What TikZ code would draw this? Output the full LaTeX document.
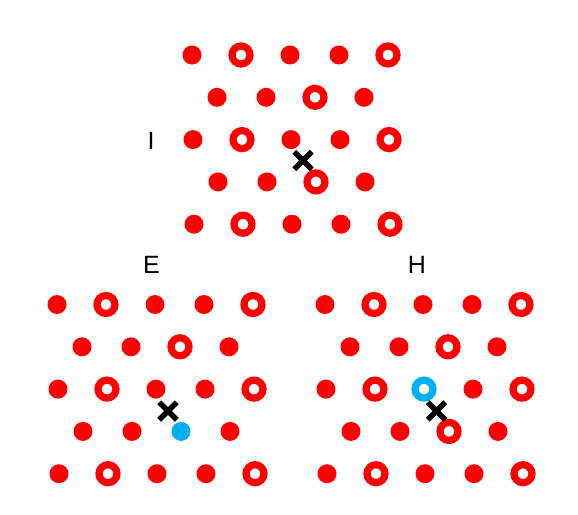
\documentclass[tikz,border=0pt]{standalone}
\usepackage{fontspec}
\setmainfont{Liberation Sans}
\usetikzlibrary{shapes.misc}
\definecolor{sitered}{RGB}{255,0,0}
\definecolor{siteblue}{RGB}{0,176,240}
\tikzset{
  atom/.style={circle, fill=sitered, inner sep=0pt, minimum size=19pt},
  hole/.style={circle, draw=sitered, line width=7.2pt, inner sep=0pt, minimum size=18pt},
  blueatom/.style={atom, fill=siteblue},
  bluehole/.style={hole, draw=siteblue},
  defect/.style={cross out, draw=black, line width=5.5pt, inner sep=0pt, minimum size=12pt},
  tag/.style={font=\fontsize{25}{30}\selectfont, inner sep=0pt}
}
\begin{document}
\begin{tikzpicture}[x=1pt, y=-1pt]
\useasboundingbox (0,0) rectangle (578,514);

% lattice I
\foreach \r/\types in {0/{atom,hole,atom,atom,hole}, 1/{atom,atom,hole,atom}, 2/{atom,hole,atom,atom,hole}, 3/{atom,atom,hole,atom}, 4/{atom,hole,atom,atom,hole}}
  \foreach \s [count=\c from 0] in \types
    \node[\s] (I-\r-\c) at ({192+0.5*\r+49*\c+24.5*mod(\r,2)}, {55+42.3*\r}) {};
\node[defect] (I-x) at (303,160.5) {};
\node[tag] (I-lab) at (151,141) {I};

% lattice E
\foreach \r/\types in {0/{atom,hole,atom,atom,hole}, 1/{atom,atom,hole,atom}, 2/{atom,hole,atom,atom,hole}, 3/{atom,atom,blueatom,atom}, 4/{atom,hole,atom,atom,hole}}
  \foreach \s [count=\c from 0] in \types
    \node[\s] (E-\r-\c) at ({57+0.5*\r+49*\c+24.5*mod(\r,2)}, {304.5+42.3*\r}) {};
\node[defect] (E-x) at (168,411) {};
\node[tag] (E-lab) at (151.5,265) {E};

% lattice H
\foreach \r/\types in {0/{atom,hole,atom,atom,hole}, 1/{atom,atom,hole,atom}, 2/{atom,hole,bluehole,atom,hole}, 3/{atom,atom,hole,atom}, 4/{atom,hole,atom,atom,hole}}
  \foreach \s [count=\c from 0] in \types
    \node[\s] (H-\r-\c) at ({325+0.5*\r+49*\c+24.5*mod(\r,2)}, {304.5+42.3*\r}) {};
\node[defect] (H-x) at (436.5,411) {};
\node[tag] (H-lab) at (417,265) {H};
\end{tikzpicture}
\end{document}
